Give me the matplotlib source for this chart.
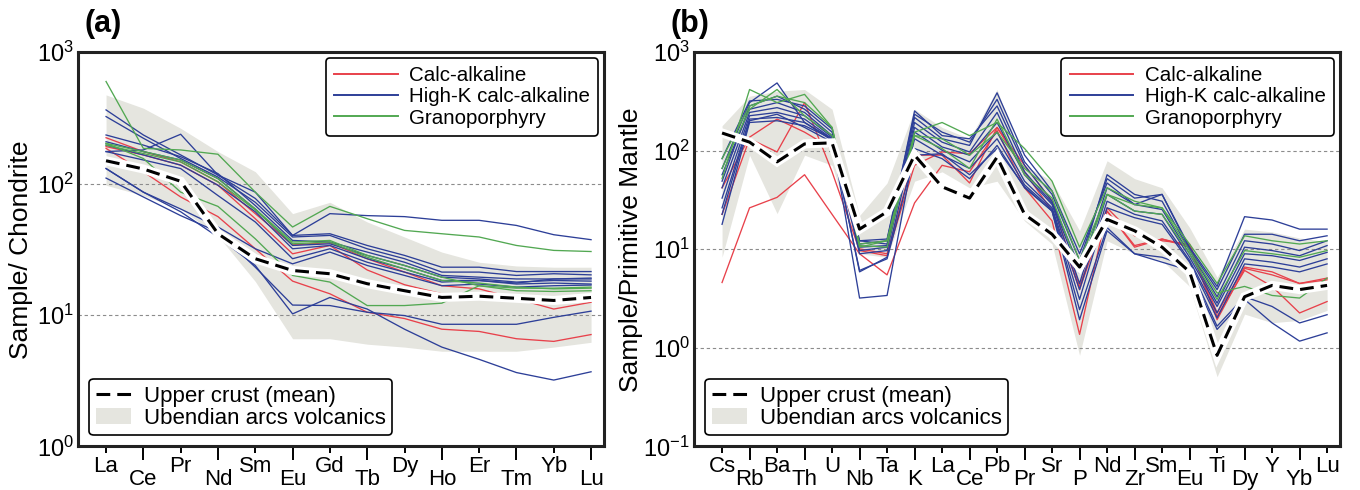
import numpy as np
import matplotlib.pyplot as plt
from matplotlib.lines import Line2D
from matplotlib.patches import Patch

plt.rcParams['font.family'] = ['Liberation Sans', 'DejaVu Sans']
plt.rcParams['mathtext.default'] = 'regular'

RED = '#e8414b'
BLUE = '#2d3f98'
GREEN = '#52a852'
BAND = '#e5e5df'

# --- Chondrite-normalised REE ---
ree = ['La', 'Ce', 'Pr', 'Nd', 'Sm', 'Eu', 'Gd', 'Tb', 'Dy', 'Ho', 'Er', 'Tm', 'Yb', 'Lu']

ree_calc_alk = [
    [223, 175, 146, 103, 59, 34.2, 35.5, 26.8, 21.2, 16.7, 15.8, 13.3, 11.1, 12.5],
    [191, 165, 138, 97, 54, 29.2, 33.8, 22.0, 17.0, 14.5, 14.0, 13.6, 13.2, 13.5],
    [185, 123, 79, 56, 31.9, 18.1, 14.5, 10.5, 9.4, 7.8, 7.5, 6.6, 6.3, 7.1],
]
ree_high_k = [
    [175, 180, 237, 116, 86, 40.3, 59, 57, 56, 52.5, 52.5, 48, 40.8, 37.4],
    [363, 234, 165, 116, 77, 40.3, 41.5, 33.8, 28.4, 23.1, 23.1, 21.4, 21.4, 21.4],
    [323, 221, 155, 112, 72, 39.2, 40.3, 31.9, 26.8, 21.2, 21.2, 20.0, 20.6, 20.2],
    [234, 196, 160, 119, 68, 36.9, 35.9, 30.1, 25.2, 20.0, 19.4, 18.8, 18.8, 19.1],
    [208, 175, 151, 109, 64, 33.8, 34.8, 28.4, 23.8, 19.4, 18.8, 17.8, 18.3, 18.1],
    [175, 151, 130, 81, 51, 26.8, 31.9, 25.2, 21.2, 17.8, 18.3, 17.2, 17.5, 17.2],
    [130, 86, 64, 46.7, 31.9, 24.5, 30.1, 23.8, 20.0, 16.7, 17.2, 16.3, 16.7, 16.9],
    [110, 79, 57, 42.8, 23.1, 11.9, 11.8, 10.5, 9.9, 8.5, 8.5, 8.5, 9.6, 10.7],
    [130, 86, 61, 39.2, 23.8, 10.2, 13.6, 11.1, 7.8, 5.7, 4.6, 3.65, 3.2, 3.7],
    [196, 165, 138, 97, 61, 31.9, 33.8, 26.8, 22.4, 18.3, 18.3, 17.5, 18.8, 18.8],
]
ree_granoporphyry = [
    [597, 185, 180, 167, 86, 46.7, 67, 54, 44, 41.5, 39.2, 33.8, 31.0, 30.4],
    [202, 155, 86, 67, 38, 20.0, 17.8, 11.8, 11.8, 12.3, 16.7, 15.3, 15.1, 15.3],
    [202, 175, 151, 109, 64, 35.9, 36.9, 28.4, 23.8, 19.4, 16.7, 16.0, 16.0, 16.3],
    [196, 169, 146, 103, 63, 34.8, 35.9, 27.5, 22.4, 18.3, 17.5, 16.3, 15.8, 16.0],
]
ree_upper_crust = [149, 129, 104, 41.5, 26.8, 21.8, 20.6, 17.3, 15.3, 13.6, 13.9, 13.4, 12.9, 13.6]
ree_arc_high = [472, 374, 263, 175, 123, 59, 72, 51, 39.2, 30.1, 25.2, 23.6, 23.1, 23.1]
ree_arc_low = [97, 81, 64, 40, 18, 6.6, 6.6, 6.0, 5.7, 5.3, 5.3, 5.3, 5.7, 6.2]

# --- Primitive-mantle-normalised trace elements ---
spider = ['Cs', 'Rb', 'Ba', 'Th', 'U', 'Nb', 'Ta', 'K', 'La', 'Ce', 'Pb', 'Pr',
          'Sr', 'P', 'Nd', 'Zr', 'Sm', 'Eu', 'Ti', 'Dy', 'Y', 'Yb', 'Lu']

pm_calc_alk = [
    [4.6, 26.3, 33.6, 57, 22.6, 9.0, 5.5, 29.5, 71, 61, 160, 42, 19.4, 1.37, 24.4, 10.5, 12.7, 10.5, 2.09, 6.1, 4.2, 2.26, 2.95],
    [22.6, 132, 97, 307, 61, 9.7, 8.6, 71, 97, 93, 172, 61, 24.4, 3.9, 24.4, 10.9, 12.7, 10.9, 1.93, 6.4, 5.5, 4.5, 4.9],
    [42, 137, 209, 154, 105, 10.1, 9.0, 90, 90, 47, 172, 71, 30.7, 4.2, 26.3, 13.7, 12.2, 11.3, 2.26, 6.6, 5.9, 4.5, 5.1],
]
pm_high_k = [
    [66, 307, 486, 193, 132, 12.2, 11.3, 217, 132, 113, 386, 90, 39, 9.0, 47, 28.4, 36, 10.5, 4.2, 21.4, 19.8, 16, 16],
    [83, 319, 331, 284, 166, 11.3, 12.2, 253, 142, 132, 284, 71, 30.7, 6.6, 57, 36, 30.7, 9.7, 3.3, 12.2, 11.3, 9.7, 12.2],
    [57, 263, 307, 244, 142, 10.5, 10.9, 193, 122, 97, 244, 61, 29.5, 5.7, 42, 28.4, 25.3, 9.0, 2.84, 10.5, 9.7, 8.6, 10.9],
    [42, 244, 273, 226, 137, 9.7, 10.5, 172, 109, 90, 193, 57, 28.4, 4.5, 36, 24.4, 22.6, 8.3, 2.63, 9.0, 8.6, 7.7, 9.3],
    [33, 226, 244, 209, 132, 9.0, 9.7, 154, 101, 77, 154, 49, 26.3, 3.9, 30.7, 22.6, 19.4, 7.7, 2.26, 8.0, 7.4, 6.6, 8.0],
    [26.3, 209, 217, 193, 127, 5.9, 8.3, 132, 90, 66, 132, 45, 25.3, 3.1, 26.3, 20.9, 17.9, 7.4, 2.01, 7.1, 6.6, 5.9, 7.1],
    [17.9, 193, 201, 179, 132, 3.2, 3.4, 105, 83, 52, 113, 42, 24.4, 2.44, 16.6, 9.0, 8.3, 6.6, 1.66, 3.3, 2.63, 1.79, 2.17],
    [22.6, 201, 234, 172, 122, 6.1, 8.0, 90, 93, 57, 105, 43, 24.4, 1.93, 15.4, 9.0, 7.4, 6.1, 1.54, 3.1, 1.79, 1.17, 1.42],
    [49, 284, 357, 263, 154, 12.2, 12.7, 234, 154, 122, 331, 77, 36, 7.7, 52, 33, 36, 10.1, 3.9, 14.2, 14.2, 12.2, 13.7],
]
pm_granoporphyry = [
    [52, 417, 307, 372, 172, 10.5, 12.2, 154, 193, 142, 193, 105, 49, 10.5, 42, 30.7, 26.3, 11.3, 4.5, 13.7, 12.2, 11.3, 12.2],
    [83, 284, 357, 307, 172, 11.3, 12.2, 142, 132, 90, 154, 66, 39, 7.7, 36, 28.4, 26.3, 9.7, 3.6, 4.2, 3.4, 3.2, 5.1],
    [66, 263, 417, 226, 142, 10.9, 10.5, 142, 105, 66, 209, 57, 33, 6.1, 36, 24.4, 22.6, 9.0, 3.1, 9.7, 9.0, 8.3, 9.7],
]
pm_upper_crust = [151, 122, 77, 117, 120, 16, 24, 90, 43, 33, 86, 22.6, 14.2, 6.6, 20.1, 15.4, 10.5, 5.9, 0.84, 3.3, 4.3, 3.9, 4.3]
pm_arc_high = [179, 357, 401, 417, 263, 22, 47, 263, 172, 132, 417, 71, 49, 15.4, 79, 52, 42, 16.6, 5.2, 16, 15, 13, 12]
pm_arc_low = [8.3, 90, 23, 90, 71, 9.0, 8.3, 49, 61, 42, 49, 19.4, 11.3, 0.84, 12.2, 9.0, 7.7, 4.2, 0.51, 2.2, 1.8, 1.9, 2.4]


def draw_panel(ax, names, groups, crust, arc_low, arc_high, ylim, xlim, gridlines,
               ylabel, ylabelpad):
    x = np.arange(len(names))

    # field of the Ubendian arc volcanics
    ax.fill_between(x, arc_low, arc_high, color=BAND, lw=0, zorder=1)

    for samples, colour in groups:
        for s in samples:
            ax.plot(x, s, color=colour, lw=0.95, zorder=3)

    # upper crust average with a white halo so it reads over the samples
    ax.plot(x, crust, color='white', lw=6.5, solid_joinstyle='miter', zorder=4)
    ax.plot(x, crust, color='black', lw=2.2, dashes=(4.5, 2.3), zorder=5)

    for g in gridlines:
        ax.axhline(g, color='#8c8c8c', lw=0.8, ls=(0, (3, 2.5)), zorder=2)

    ax.set_yscale('log')
    ax.set_ylim(*ylim)
    ax.set_xlim(*xlim)
    ax.set_yticks([10.0 ** p for p in range(int(np.log10(ylim[0])), int(np.log10(ylim[1])) + 1)])
    ax.yaxis.set_minor_locator(plt.NullLocator())
    ax.tick_params(axis='y', length=0, pad=3, labelsize=17)

    # alternate tick labels between two rows
    even = x[::2]
    odd = x[1::2]
    ax.set_xticks(even)
    ax.set_xticklabels([names[i] for i in even])
    ax.set_xticks(odd, minor=True)
    ax.set_xticklabels([names[i] for i in odd], minor=True)
    ax.tick_params(axis='x', which='major', length=5, width=1.4, pad=2, labelsize=16)
    ax.tick_params(axis='x', which='minor', length=10, width=1.4, pad=6, labelsize=16)

    for sp in ax.spines.values():
        sp.set_linewidth(2.2)
        sp.set_color('#222222')

    ax.set_ylabel(ylabel, fontsize=19, labelpad=ylabelpad)

    top = ax.legend(handles=[Line2D([], [], color=RED, lw=1.4, label='Calc-alkaline'),
                             Line2D([], [], color=BLUE, lw=1.4, label='High-K calc-alkaline'),
                             Line2D([], [], color=GREEN, lw=1.4, label='Granoporphyry')],
                    loc='upper right', fontsize=14.8, handlelength=3.1, handletextpad=0.55,
                    labelspacing=0.1, borderpad=0.4, borderaxespad=0.3,
                    framealpha=1, edgecolor='black', fancybox=True)
    top.get_frame().set_linewidth(1.2)
    top.set_zorder(10)
    ax.add_artist(top)

    low = ax.legend(handles=[Line2D([], [], color='black', lw=2.2, dashes=(4.5, 2.3),
                                    label='Upper crust (mean)'),
                             Patch(facecolor=BAND, edgecolor='none', label='Ubendian arcs volcanics')],
                    loc='lower left', fontsize=16, handlelength=1.6, handletextpad=0.55,
                    labelspacing=0.05, borderpad=0.3, borderaxespad=0.5,
                    framealpha=1, edgecolor='black', fancybox=True)
    low.get_frame().set_linewidth(1.2)
    low.set_zorder(10)


fig = plt.figure(figsize=(13.6, 4.9), dpi=100)
ax_a = fig.add_axes([0.0574, 0.0888, 0.3868, 0.805])
ax_b = fig.add_axes([0.5103, 0.0888, 0.4750, 0.805])

draw_panel(ax_a, ree,
           [(ree_calc_alk, RED), (ree_high_k, BLUE), (ree_granoporphyry, GREEN)],
           ree_upper_crust, ree_arc_low, ree_arc_high,
           (1, 1000), (-0.75, 13.35), [10, 100], 'Sample/ Chondrite', 3)
draw_panel(ax_b, spider,
           [(pm_calc_alk, RED), (pm_high_k, BLUE), (pm_granoporphyry, GREEN)],
           pm_upper_crust, pm_arc_low, pm_arc_high,
           (0.1, 1000), (-1.02, 22.47), [1, 10, 100], 'Sample/Primitive Mantle', 0)

fig.text(0.062, 0.935, '(a)', fontsize=22, fontweight='bold')
fig.text(0.493, 0.935, '(b)', fontsize=22, fontweight='bold')

fig.savefig('out.png', dpi=100)
